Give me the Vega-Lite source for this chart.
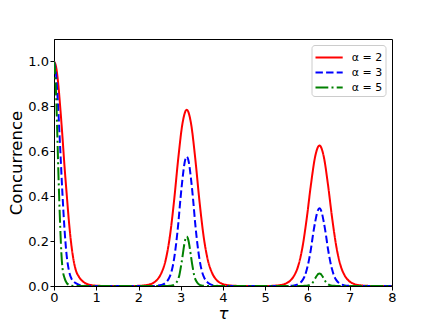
{
  "$schema": "https://vega.github.io/schema/vega-lite/v6.json",
  "width": 338,
  "height": 247,
  "autosize": {"type": "none"},
  "padding": {"left": 54, "top": 39, "right": 44, "bottom": 41},
  "config": {
    "font": "DejaVu Sans",
    "view": {"stroke": "black", "strokeWidth": 1},
    "axis": {
      "grid": false,
      "domainColor": "black",
      "tickColor": "black",
      "labelColor": "black",
      "titleColor": "black",
      "labelFontSize": 13,
      "titleFontSize": 16.5,
      "titleFontWeight": "normal",
      "tickSize": 4,
      "labelPadding": 1.5,
      "labelFlush": false
    }
  },
  "data": {
    "values": [
      {"t": 0, "C": 1, "s": "α = 2"},
      {"t": 0.05, "C": 0.975, "s": "α = 2"},
      {"t": 0.1, "C": 0.9, "s": "α = 2"},
      {"t": 0.15, "C": 0.79, "s": "α = 2"},
      {"t": 0.2, "C": 0.665, "s": "α = 2"},
      {"t": 0.25, "C": 0.53, "s": "α = 2"},
      {"t": 0.3, "C": 0.41, "s": "α = 2"},
      {"t": 0.35, "C": 0.295, "s": "α = 2"},
      {"t": 0.4, "C": 0.2, "s": "α = 2"},
      {"t": 0.45, "C": 0.13, "s": "α = 2"},
      {"t": 0.5, "C": 0.082, "s": "α = 2"},
      {"t": 0.6, "C": 0.038, "s": "α = 2"},
      {"t": 0.7, "C": 0.018, "s": "α = 2"},
      {"t": 0.8, "C": 0.008, "s": "α = 2"},
      {"t": 0.9, "C": 0.0035, "s": "α = 2"},
      {"t": 1.0, "C": 0.0015, "s": "α = 2"},
      {"t": 1.2, "C": 0.0003, "s": "α = 2"},
      {"t": 1.5, "C": 0, "s": "α = 2"},
      {"t": 1.942, "C": 0.0005, "s": "α = 2"},
      {"t": 2.142, "C": 0.003, "s": "α = 2"},
      {"t": 2.242, "C": 0.006, "s": "α = 2"},
      {"t": 2.342, "C": 0.013, "s": "α = 2"},
      {"t": 2.442, "C": 0.028, "s": "α = 2"},
      {"t": 2.542, "C": 0.058, "s": "α = 2"},
      {"t": 2.642, "C": 0.115, "s": "α = 2"},
      {"t": 2.742, "C": 0.22, "s": "α = 2"},
      {"t": 2.842, "C": 0.38, "s": "α = 2"},
      {"t": 2.942, "C": 0.57, "s": "α = 2"},
      {"t": 3.042, "C": 0.725, "s": "α = 2"},
      {"t": 3.142, "C": 0.785, "s": "α = 2"},
      {"t": 3.242, "C": 0.725, "s": "α = 2"},
      {"t": 3.342, "C": 0.57, "s": "α = 2"},
      {"t": 3.442, "C": 0.38, "s": "α = 2"},
      {"t": 3.542, "C": 0.22, "s": "α = 2"},
      {"t": 3.642, "C": 0.115, "s": "α = 2"},
      {"t": 3.742, "C": 0.058, "s": "α = 2"},
      {"t": 3.842, "C": 0.028, "s": "α = 2"},
      {"t": 3.942, "C": 0.013, "s": "α = 2"},
      {"t": 4.042, "C": 0.006, "s": "α = 2"},
      {"t": 4.142, "C": 0.003, "s": "α = 2"},
      {"t": 4.342, "C": 0.0005, "s": "α = 2"},
      {"t": 4.7, "C": 0, "s": "α = 2"},
      {"t": 5.083, "C": 0.0004, "s": "α = 2"},
      {"t": 5.283, "C": 0.0024, "s": "α = 2"},
      {"t": 5.383, "C": 0.0048, "s": "α = 2"},
      {"t": 5.483, "C": 0.0106, "s": "α = 2"},
      {"t": 5.583, "C": 0.0225, "s": "α = 2"},
      {"t": 5.683, "C": 0.046, "s": "α = 2"},
      {"t": 5.783, "C": 0.091, "s": "α = 2"},
      {"t": 5.883, "C": 0.175, "s": "α = 2"},
      {"t": 5.983, "C": 0.303, "s": "α = 2"},
      {"t": 6.083, "C": 0.454, "s": "α = 2"},
      {"t": 6.183, "C": 0.578, "s": "α = 2"},
      {"t": 6.283, "C": 0.626, "s": "α = 2"},
      {"t": 6.383, "C": 0.578, "s": "α = 2"},
      {"t": 6.483, "C": 0.454, "s": "α = 2"},
      {"t": 6.583, "C": 0.303, "s": "α = 2"},
      {"t": 6.683, "C": 0.175, "s": "α = 2"},
      {"t": 6.783, "C": 0.091, "s": "α = 2"},
      {"t": 6.883, "C": 0.046, "s": "α = 2"},
      {"t": 6.983, "C": 0.0225, "s": "α = 2"},
      {"t": 7.083, "C": 0.0106, "s": "α = 2"},
      {"t": 7.183, "C": 0.0048, "s": "α = 2"},
      {"t": 7.283, "C": 0.0024, "s": "α = 2"},
      {"t": 7.483, "C": 0.0004, "s": "α = 2"},
      {"t": 7.8, "C": 0, "s": "α = 2"},
      {"t": 8, "C": 0, "s": "α = 2"},

      {"t": 0, "C": 1, "s": "α = 3"},
      {"t": 0.05, "C": 0.94, "s": "α = 3"},
      {"t": 0.1, "C": 0.79, "s": "α = 3"},
      {"t": 0.15, "C": 0.6, "s": "α = 3"},
      {"t": 0.2, "C": 0.41, "s": "α = 3"},
      {"t": 0.25, "C": 0.25, "s": "α = 3"},
      {"t": 0.3, "C": 0.135, "s": "α = 3"},
      {"t": 0.35, "C": 0.072, "s": "α = 3"},
      {"t": 0.4, "C": 0.038, "s": "α = 3"},
      {"t": 0.5, "C": 0.014, "s": "α = 3"},
      {"t": 0.6, "C": 0.005, "s": "α = 3"},
      {"t": 0.7, "C": 0.0015, "s": "α = 3"},
      {"t": 0.8, "C": 0, "s": "α = 3"},
      {"t": 2.342, "C": 0, "s": "α = 3"},
      {"t": 2.442, "C": 0.0014, "s": "α = 3"},
      {"t": 2.542, "C": 0.0044, "s": "α = 3"},
      {"t": 2.642, "C": 0.0144, "s": "α = 3"},
      {"t": 2.742, "C": 0.043, "s": "α = 3"},
      {"t": 2.792, "C": 0.072, "s": "α = 3"},
      {"t": 2.842, "C": 0.121, "s": "α = 3"},
      {"t": 2.892, "C": 0.19, "s": "α = 3"},
      {"t": 2.942, "C": 0.279, "s": "α = 3"},
      {"t": 2.992, "C": 0.386, "s": "α = 3"},
      {"t": 3.042, "C": 0.478, "s": "α = 3"},
      {"t": 3.092, "C": 0.55, "s": "α = 3"},
      {"t": 3.142, "C": 0.576, "s": "α = 3"},
      {"t": 3.192, "C": 0.55, "s": "α = 3"},
      {"t": 3.242, "C": 0.478, "s": "α = 3"},
      {"t": 3.292, "C": 0.386, "s": "α = 3"},
      {"t": 3.342, "C": 0.279, "s": "α = 3"},
      {"t": 3.392, "C": 0.19, "s": "α = 3"},
      {"t": 3.442, "C": 0.121, "s": "α = 3"},
      {"t": 3.492, "C": 0.072, "s": "α = 3"},
      {"t": 3.542, "C": 0.043, "s": "α = 3"},
      {"t": 3.642, "C": 0.0144, "s": "α = 3"},
      {"t": 3.742, "C": 0.0044, "s": "α = 3"},
      {"t": 3.842, "C": 0.0014, "s": "α = 3"},
      {"t": 3.942, "C": 0, "s": "α = 3"},
      {"t": 5.483, "C": 0, "s": "α = 3"},
      {"t": 5.583, "C": 0.0009, "s": "α = 3"},
      {"t": 5.683, "C": 0.0026, "s": "α = 3"},
      {"t": 5.783, "C": 0.0087, "s": "α = 3"},
      {"t": 5.883, "C": 0.026, "s": "α = 3"},
      {"t": 5.933, "C": 0.043, "s": "α = 3"},
      {"t": 5.983, "C": 0.073, "s": "α = 3"},
      {"t": 6.033, "C": 0.114, "s": "α = 3"},
      {"t": 6.083, "C": 0.167, "s": "α = 3"},
      {"t": 6.133, "C": 0.232, "s": "α = 3"},
      {"t": 6.183, "C": 0.287, "s": "α = 3"},
      {"t": 6.233, "C": 0.33, "s": "α = 3"},
      {"t": 6.283, "C": 0.346, "s": "α = 3"},
      {"t": 6.333, "C": 0.33, "s": "α = 3"},
      {"t": 6.383, "C": 0.287, "s": "α = 3"},
      {"t": 6.433, "C": 0.232, "s": "α = 3"},
      {"t": 6.483, "C": 0.167, "s": "α = 3"},
      {"t": 6.533, "C": 0.114, "s": "α = 3"},
      {"t": 6.583, "C": 0.073, "s": "α = 3"},
      {"t": 6.633, "C": 0.043, "s": "α = 3"},
      {"t": 6.683, "C": 0.026, "s": "α = 3"},
      {"t": 6.783, "C": 0.0087, "s": "α = 3"},
      {"t": 6.883, "C": 0.0026, "s": "α = 3"},
      {"t": 6.983, "C": 0.0009, "s": "α = 3"},
      {"t": 7.083, "C": 0, "s": "α = 3"},
      {"t": 8, "C": 0, "s": "α = 3"},

      {"t": 0, "C": 1, "s": "α = 5"},
      {"t": 0.025, "C": 0.96, "s": "α = 5"},
      {"t": 0.05, "C": 0.85, "s": "α = 5"},
      {"t": 0.075, "C": 0.7, "s": "α = 5"},
      {"t": 0.1, "C": 0.53, "s": "α = 5"},
      {"t": 0.125, "C": 0.38, "s": "α = 5"},
      {"t": 0.15, "C": 0.25, "s": "α = 5"},
      {"t": 0.175, "C": 0.145, "s": "α = 5"},
      {"t": 0.2, "C": 0.082, "s": "α = 5"},
      {"t": 0.25, "C": 0.035, "s": "α = 5"},
      {"t": 0.3, "C": 0.014, "s": "α = 5"},
      {"t": 0.35, "C": 0.005, "s": "α = 5"},
      {"t": 0.4, "C": 0.0015, "s": "α = 5"},
      {"t": 0.5, "C": 0, "s": "α = 5"},
      {"t": 2.642, "C": 0, "s": "α = 5"},
      {"t": 2.742, "C": 0.0008, "s": "α = 5"},
      {"t": 2.792, "C": 0.0022, "s": "α = 5"},
      {"t": 2.842, "C": 0.0057, "s": "α = 5"},
      {"t": 2.892, "C": 0.0143, "s": "α = 5"},
      {"t": 2.942, "C": 0.032, "s": "α = 5"},
      {"t": 2.967, "C": 0.048, "s": "α = 5"},
      {"t": 2.992, "C": 0.073, "s": "α = 5"},
      {"t": 3.017, "C": 0.101, "s": "α = 5"},
      {"t": 3.042, "C": 0.132, "s": "α = 5"},
      {"t": 3.067, "C": 0.165, "s": "α = 5"},
      {"t": 3.092, "C": 0.194, "s": "α = 5"},
      {"t": 3.117, "C": 0.213, "s": "α = 5"},
      {"t": 3.142, "C": 0.22, "s": "α = 5"},
      {"t": 3.167, "C": 0.213, "s": "α = 5"},
      {"t": 3.192, "C": 0.194, "s": "α = 5"},
      {"t": 3.217, "C": 0.165, "s": "α = 5"},
      {"t": 3.242, "C": 0.132, "s": "α = 5"},
      {"t": 3.267, "C": 0.101, "s": "α = 5"},
      {"t": 3.292, "C": 0.073, "s": "α = 5"},
      {"t": 3.317, "C": 0.048, "s": "α = 5"},
      {"t": 3.342, "C": 0.032, "s": "α = 5"},
      {"t": 3.392, "C": 0.0143, "s": "α = 5"},
      {"t": 3.442, "C": 0.0057, "s": "α = 5"},
      {"t": 3.492, "C": 0.0022, "s": "α = 5"},
      {"t": 3.542, "C": 0.0008, "s": "α = 5"},
      {"t": 3.642, "C": 0, "s": "α = 5"},
      {"t": 5.783, "C": 0, "s": "α = 5"},
      {"t": 5.883, "C": 0.0002, "s": "α = 5"},
      {"t": 5.933, "C": 0.0006, "s": "α = 5"},
      {"t": 5.983, "C": 0.0015, "s": "α = 5"},
      {"t": 6.033, "C": 0.0036, "s": "α = 5"},
      {"t": 6.083, "C": 0.008, "s": "α = 5"},
      {"t": 6.108, "C": 0.012, "s": "α = 5"},
      {"t": 6.133, "C": 0.018, "s": "α = 5"},
      {"t": 6.158, "C": 0.026, "s": "α = 5"},
      {"t": 6.183, "C": 0.034, "s": "α = 5"},
      {"t": 6.208, "C": 0.042, "s": "α = 5"},
      {"t": 6.233, "C": 0.049, "s": "α = 5"},
      {"t": 6.258, "C": 0.054, "s": "α = 5"},
      {"t": 6.283, "C": 0.056, "s": "α = 5"},
      {"t": 6.308, "C": 0.054, "s": "α = 5"},
      {"t": 6.333, "C": 0.049, "s": "α = 5"},
      {"t": 6.358, "C": 0.042, "s": "α = 5"},
      {"t": 6.383, "C": 0.034, "s": "α = 5"},
      {"t": 6.408, "C": 0.026, "s": "α = 5"},
      {"t": 6.433, "C": 0.018, "s": "α = 5"},
      {"t": 6.458, "C": 0.012, "s": "α = 5"},
      {"t": 6.483, "C": 0.008, "s": "α = 5"},
      {"t": 6.533, "C": 0.0036, "s": "α = 5"},
      {"t": 6.583, "C": 0.0015, "s": "α = 5"},
      {"t": 6.633, "C": 0.0006, "s": "α = 5"},
      {"t": 6.683, "C": 0.0002, "s": "α = 5"},
      {"t": 6.783, "C": 0, "s": "α = 5"},
      {"t": 8, "C": 0, "s": "α = 5"}
    ]
  },
  "mark": {"type": "line", "strokeWidth": 2, "interpolate": "monotone", "clip": true},
  "encoding": {
    "x": {
      "field": "t", "type": "quantitative",
      "scale": {"domain": [0, 8], "nice": false, "zero": false},
      "axis": {"title": "τ", "values": [0, 1, 2, 3, 4, 5, 6, 7, 8], "titlePadding": 1, "titleFontStyle": "italic"}
    },
    "y": {
      "field": "C", "type": "quantitative",
      "scale": {"domain": [0, 1.1], "nice": false},
      "axis": {"title": "Concurrence", "values": [0, 0.2, 0.4, 0.6, 0.8, 1.0], "format": ".1f", "titlePadding": 3}
    },
    "color": {
      "field": "s", "type": "nominal",
      "scale": {"domain": ["α = 2", "α = 3", "α = 5"], "range": ["#ff0000", "#0000ff", "#008000"]},
      "legend": {
        "title": null,
        "orient": "none",
        "legendX": 257.5,
        "legendY": 6,
        "padding": 3,
        "strokeColor": "#cccccc",
        "fillColor": "white",
        "cornerRadius": 3,
        "symbolType": "M-1,0H2.2",
        "symbolSize": 289,
        "symbolStrokeWidth": 1.8,
        "labelFontSize": 11,
        "labelColor": "black",
        "labelOffset": 18.3,
        "rowPadding": 0
      }
    },
    "strokeDash": {
      "field": "s", "type": "nominal",
      "scale": {"domain": ["α = 2", "α = 3", "α = 5"], "range": [[1, 0], [7.4, 3.2], [12.8, 3.2, 2, 3.2]]},
      "legend": {
        "title": null,
        "orient": "none",
        "legendX": 257.5,
        "legendY": 6,
        "padding": 3,
        "strokeColor": "#cccccc",
        "fillColor": "white",
        "cornerRadius": 3,
        "symbolType": "M-1,0H2.2",
        "symbolSize": 289,
        "symbolStrokeWidth": 1.8,
        "labelFontSize": 11,
        "labelColor": "black",
        "labelOffset": 18.3,
        "rowPadding": 0
      }
    }
  }
}
